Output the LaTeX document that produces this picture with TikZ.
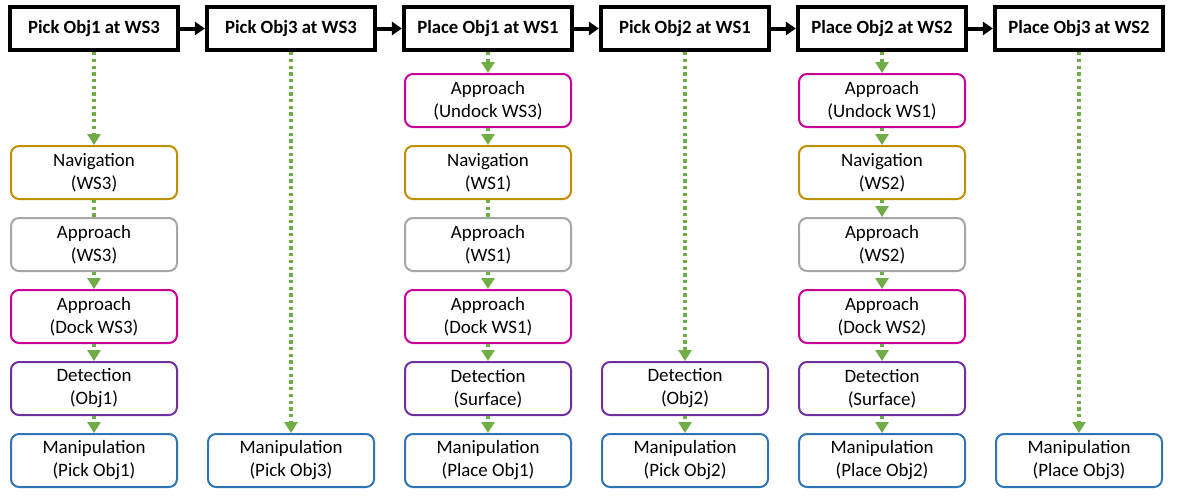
\documentclass[tikz,border=0pt]{standalone}
\usepackage{fontspec}
\setmainfont{Carlito}
\usetikzlibrary{arrows.meta}

\definecolor{navgold}{HTML}{BF9000}
\definecolor{appgray}{HTML}{A6A6A6}
\definecolor{dockpink}{HTML}{CC0099}
\definecolor{detpurple}{HTML}{7030A0}
\definecolor{manblue}{HTML}{2E75B6}
\definecolor{flowgreen}{HTML}{70AD47}

\begin{document}
\begin{tikzpicture}[x=1pt,y=-1pt,
  task/.style={draw=black, line width=4.2pt, minimum width=168pt, minimum height=43pt, inner sep=0pt, font=\bfseries\fontsize{18.7}{20}\selectfont},
  sub/.style={draw=#1, line width=2pt, rounded corners=8pt, minimum width=166pt, minimum height=53pt, inner sep=0pt, align=center, font=\fontsize{18.9}{23}\selectfont},
  seq/.style={-{Triangle[length=10pt,width=13pt]}, line width=4pt},
  flow/.style={-{Triangle[length=11pt,width=13pt]}, flowgreen, line width=3.5pt, dash pattern=on 3.3pt off 3.4pt}]
\useasboundingbox (0,0) rectangle (1183,498);

% tasks along the top
\foreach \c/\txt in {1/Pick Obj1 at WS3, 2/Pick Obj3 at WS3, 3/Place Obj1 at WS1,
                     4/Pick Obj2 at WS1, 5/Place Obj2 at WS2, 6/Place Obj3 at WS2}
    \node[task] (h\c) at ({94+197*(\c-1)}, 28.5) {\txt};
\foreach \a/\b in {1/2,2/3,3/4,4/5,5/6}
    \draw[seq] (h\a) -- (h\b);

% skills below each task
\foreach \c/\r/\col/\txt in {
    1/2/navgold/{Navigation\\(WS3)}, 1/3/appgray/{Approach\\(WS3)},
    1/4/dockpink/{Approach\\(Dock WS3)}, 1/5/detpurple/{Detection\\(Obj1)},
    1/6/manblue/{Manipulation\\(Pick Obj1)},
    2/6/manblue/{Manipulation\\(Pick Obj3)},
    3/1/dockpink/{Approach\\(Undock WS3)}, 3/2/navgold/{Navigation\\(WS1)},
    3/3/appgray/{Approach\\(WS1)}, 3/4/dockpink/{Approach\\(Dock WS1)},
    3/5/detpurple/{Detection\\(Surface)}, 3/6/manblue/{Manipulation\\(Place Obj1)},
    4/5/detpurple/{Detection\\(Obj2)}, 4/6/manblue/{Manipulation\\(Pick Obj2)},
    5/1/dockpink/{Approach\\(Undock WS1)}, 5/2/navgold/{Navigation\\(WS2)},
    5/3/appgray/{Approach\\(WS2)}, 5/4/dockpink/{Approach\\(Dock WS2)},
    5/5/detpurple/{Detection\\(Surface)}, 5/6/manblue/{Manipulation\\(Place Obj2)},
    6/6/manblue/{Manipulation\\(Place Obj3)}}
    \node[sub=\col] (n\c-\r) at ({94+197*(\c-1)}, {100.5+72*(\r-1)}) {\txt};

% dotted flow
\foreach \c/\r in {1/2,2/6,3/1,4/5,5/1,6/6}
    \draw[flow] (h\c) -- (n\c-\r);
\foreach \c/\a/\b in {1/3/4,1/4/5,1/5/6,3/1/2,3/3/4,3/4/5,3/5/6,4/5/6,
                      5/1/2,5/2/3,5/3/4,5/4/5,5/5/6}
    \draw[flow] (n\c-\a) -- (n\c-\b);
\draw[flow, -] (n1-2) -- (n1-3);
\draw[flow, -] (n3-2) -- (n3-3);
\end{tikzpicture}
\end{document}
